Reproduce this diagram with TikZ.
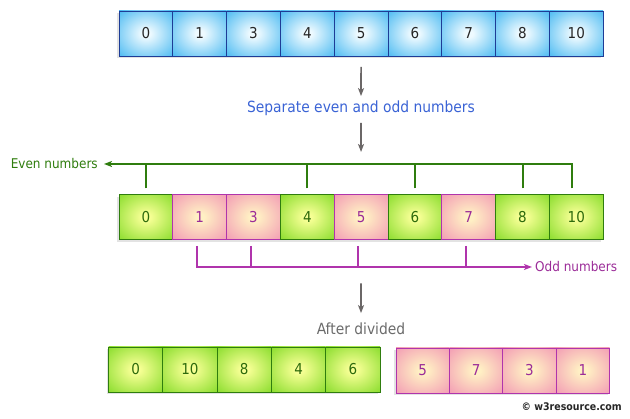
\documentclass[tikz,border=0pt]{standalone}
\usepackage{fontspec}
\setmainfont{DejaVu Sans Condensed}
\usepackage{tikz}
\usetikzlibrary{positioning, arrows.meta, fit, backgrounds, shadows}
\usepackage{xcolor}

\definecolor{bluein}{HTML}{EEFAFF}
\definecolor{blueout}{HTML}{36B2F0}
\definecolor{blueedge}{HTML}{1E3C96}
\definecolor{evenin}{HTML}{F6FF94}
\definecolor{evenout}{HTML}{74D618}
\definecolor{evenedge}{HTML}{2F7D0E}
\definecolor{evenink}{HTML}{2D6A0C}
\definecolor{oddin}{HTML}{FFF0C4}
\definecolor{oddout}{HTML}{F296B3}
\definecolor{oddedge}{HTML}{B034AC}
\definecolor{oddink}{HTML}{9B2C98}
\definecolor{arrowgray}{HTML}{6B6767}
\definecolor{seplabel}{HTML}{3A63D5}

\pgfdeclareradialshading{blueshade}{\pgfpoint{0bp}{0bp}}{color(0bp)=(bluein); color(4bp)=(bluein); color(40bp)=(blueout); color(72bp)=(blueout)}
\pgfdeclareradialshading{evenshade}{\pgfpoint{0bp}{0bp}}{color(0bp)=(evenin); color(4bp)=(evenin); color(42bp)=(evenout); color(72bp)=(evenout)}
\pgfdeclareradialshading{oddshade}{\pgfpoint{0bp}{0bp}}{color(0bp)=(oddin); color(4bp)=(oddin); color(38bp)=(oddout); color(72bp)=(oddout)}

\begin{document}
\begin{tikzpicture}[
  x=1pt, y=-1pt,
  cell/.style={draw, line width=0.9pt, minimum width=53.8pt, minimum height=45pt,
    inner sep=0pt, outer sep=0pt, font=\fontsize{15}{18}\selectfont},
  bluecell/.style={cell, draw=blueedge, shading=blueshade, text=black!85},
  evencell/.style={cell, draw=evenedge, shading=evenshade, text=evenink},
  oddcell/.style={cell, draw=oddedge, shading=oddshade, text=oddink},
  rowshadow/.style={inner sep=0pt, fill=white,
    drop shadow={shadow xshift=-2pt, shadow yshift=-2.5pt, opacity=0.22}},
  flow/.style={draw=arrowgray, line width=1.6pt, -{Stealth[length=8pt, width=6pt, inset=2pt]}},
  evenbus/.style={draw=evenedge, line width=2pt},
  oddbus/.style={draw=oddedge, line width=2pt},
  sidelabel/.style={inner sep=0pt, font=\fontsize{13.4}{16}\selectfont},
  steplabel/.style={inner sep=0pt, anchor=base, font=\fontsize{15.4}{18}\selectfont},
]
\useasboundingbox (0,0) rectangle (630,419);

\foreach \v [count=\i] in {0,1,3,4,5,6,7,8,10}
  \node[bluecell] (t\i) at ({92.1+53.8*\i}, 33.5) {\v};
\foreach \v/\kind [count=\i] in {0/evencell, 1/oddcell, 3/oddcell, 4/evencell, 5/oddcell,
    6/evencell, 7/oddcell, 8/evencell, 10/evencell}
  \node[\kind] (m\i) at ({92.1+53.8*\i}, 217) {\v};
\foreach \v [count=\i] in {0,10,8,4,6}
  \node[evencell, minimum width=54.3pt] (e\i) at ({81.35+54.3*\i}, 369.5) {\v};
\foreach \v [count=\i] in {5,7,3,1}
  \node[oddcell, minimum width=53.4pt] (o\i) at ({369.3+53.4*\i}, 370.5) {\v};

\begin{scope}[on background layer]
  \node[rowshadow, fit=(t1)(t9)] (topshadow) {};
  \node[rowshadow, fit=(m1)(m9)] (midshadow) {};
  \node[rowshadow, fit=(e1)(e5)] (evenshadow) {};
  \node[rowshadow, fit=(o1)(o4)] (oddshadow) {};
\end{scope}

\node[steplabel, text=seplabel] (sep) at (361,113) {Separate even and odd numbers};
\node[steplabel, text=black!58] (after) at (361,335) {After divided};

\draw[flow, shorten <=11pt, shorten >=5pt] (t5) -- (sep);
\draw[flow, shorten <=6.5pt, shorten >=42.5pt] (sep) -- (m5);
\draw[flow, shorten <=44pt, shorten >=10pt] (m5) -- (after);

\coordinate (evenend) at (104,164);
\coordinate (oddend) at (532,267);
\node[sidelabel, text=evenedge, left=6pt of evenend] (evenlbl) {Even numbers};
\node[sidelabel, text=oddink, right=3pt of oddend] (oddlbl) {Odd numbers};

\draw[evenbus, -{Stealth[length=8pt, width=6pt, inset=2pt]}]
  ([xshift=-4pt, yshift=6pt]m9.north) |- (evenend);
\foreach \i in {1,4,6,8}
  \draw[evenbus] ([yshift=6pt]m\i.north) -- (m\i.north |- evenend);
\draw[oddbus, -{Stealth[length=8pt, width=6pt, inset=2pt]}]
  ([xshift=-3pt, yshift=-6.5pt]m2.south) |- (oddend);
\foreach \i in {3,5,7}
  \draw[oddbus] ([xshift=-3pt, yshift=-6.5pt]m\i.south) -- ([xshift=-3pt]m\i.south |- oddend);

\node[anchor=east, inner sep=0pt, text=black!85, font=\fontsize{10.5}{12}\selectfont\bfseries]
  (credit) at (622,407) {\textcopyright\ w3resource.com};
\end{tikzpicture}
\end{document}
